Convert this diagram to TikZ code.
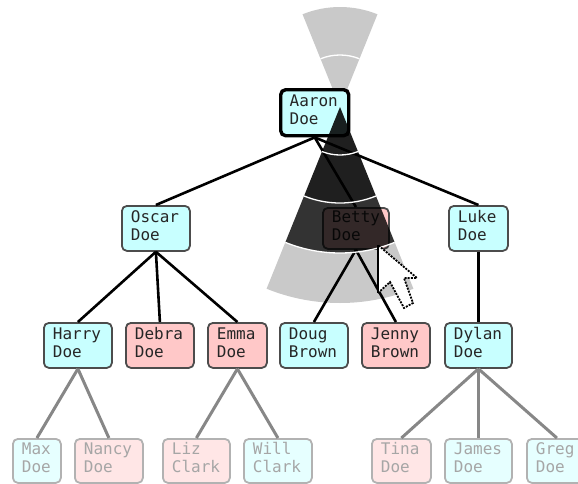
\documentclass[tikz,border=0pt]{standalone}
\usepackage{fontspec}
\setmonofont{DejaVu Sans Mono}
\definecolor{cyanbox}{HTML}{C8FFFF}
\definecolor{pinkbox}{HTML}{FFC8C8}
\definecolor{cyanleaf}{HTML}{E6FFFF}
\definecolor{pinkleaf}{HTML}{FFE6E6}
\tikzset{
  person/.style={draw=black!70,line width=1.8pt,rounded corners=5pt,anchor=north west,inner sep=0pt,
    font=\ttfamily\fontsize{16}{18}\selectfont,align=left,text=black!85},
  leaf/.style={person,draw=black!30,text=black!35},
  topperson/.style={person,draw=black,line width=3.4pt},
  link/.style={line width=2.6pt,draw=black},
  faint/.style={line width=3pt,draw=black!47},
  seam/.style={draw=white,line width=1.3pt},
}
\newcommand{\pbox}[8]{\node[#1,fill=#2,minimum width=#5pt,minimum height=#6pt,text width=#5pt-18pt] (#3) at (#4) {#7\\#8\par\vspace{6pt}};}
\begin{document}
\begin{tikzpicture}[x=1pt,y=-1pt]
\useasboundingbox (0,0) rectangle (578,483);
\coordinate (apex) at (340,107);
% upper wedge
\begin{scope}[shift={(apex)},x=1pt,y=1pt]
\fill[black!21] (0,0) -- (68:100) arc[start angle=68,end angle=112,radius=100] -- cycle;
\draw[seam] (68:52) arc[start angle=68,end angle=112,radius=52];
\end{scope}
% people
\pbox{topperson}{cyanbox}{aaron}{279,88}{68}{46}{Aaron}{Doe}
\pbox{person}{cyanbox}{oscar}{121,205}{68}{45}{Oscar}{Doe}
\pbox{person}{pinkbox}{betty}{322,207}{66}{41}{Betty}{Doe}
\pbox{person}{cyanbox}{luke}{448,205}{59}{45}{Luke}{Doe}
\pbox{person}{cyanbox}{harry}{43,322}{68}{45}{Harry}{Doe}
\pbox{person}{pinkbox}{debra}{125,322}{68}{45}{Debra}{Doe}
\pbox{person}{pinkbox}{emma}{207,322}{59}{45}{Emma}{Doe}
\pbox{person}{cyanbox}{doug}{279,322}{68}{45}{Doug}{Brown}
\pbox{person}{pinkbox}{jenny}{361,322}{68}{45}{Jenny}{Brown}
\pbox{person}{cyanbox}{dylan}{444,322}{67}{45}{Dylan}{Doe}
\pbox{leaf}{cyanleaf}{max}{12,438}{48}{44}{Max}{Doe}
\pbox{leaf}{pinkleaf}{nancy}{74,438}{68}{44}{Nancy}{Doe}
\pbox{leaf}{pinkleaf}{liz}{162,438}{67}{44}{Liz}{Clark}
\pbox{leaf}{cyanleaf}{will}{243,438}{68}{44}{Will}{Clark}
\pbox{leaf}{pinkleaf}{tina}{371,438}{59}{44}{Tina}{Doe}
\pbox{leaf}{cyanleaf}{james}{444,438}{67}{44}{James}{Doe}
\pbox{leaf}{cyanleaf}{greg}{526,438}{60}{44}{Greg}{Doe}
% links
\draw[link] (aaron.south) -- (oscar.north);
\draw[link] (aaron.south) -- (betty.north);
\draw[link] (aaron.south) -- (luke.north);
\draw[link] (oscar.south) -- (harry.north);
\draw[link] (oscar.south) -- (debra.north);
\draw[link] (oscar.south) -- (emma.north);
\draw[link] (betty.south) -- (doug.north);
\draw[link] (betty.south) -- (jenny.north);
\draw[link] (luke.south) -- (dylan.north);
\draw[faint] (harry.south) -- (max.north);
\draw[faint] (harry.south) -- (nancy.north);
\draw[faint] (emma.south) -- (liz.north);
\draw[faint] (emma.south) -- (will.north);
\draw[faint] (dylan.south) -- (tina.north);
\draw[faint] (dylan.south) -- (james.north);
\draw[faint] (dylan.south) -- (greg.north);
% lower wedge overlays
\begin{scope}[shift={(apex)},x=1pt,y=1pt]
\fill[black,opacity=.88] (0,0) -- (248:96) arc[start angle=248,end angle=292,radius=96] -- cycle;
\fill[black,opacity=.8] (248:96) arc[start angle=248,end angle=292,radius=96]
   -- (292:146) arc[start angle=292,end angle=248,radius=146] -- cycle;
\fill[black,opacity=.21] (248:146) arc[start angle=248,end angle=292,radius=146]
   -- (292:196) arc[start angle=292,end angle=248,radius=196] -- cycle;
\draw[seam] (248:48) arc[start angle=248,end angle=292,radius=48];
\draw[seam] (248:96) arc[start angle=248,end angle=292,radius=96];
\draw[seam] (248:146) arc[start angle=248,end angle=292,radius=146];
\end{scope}
% pointer
\coordinate (t) at (378,245);
\fill[white] (t) -- (378,293) -- (390,282) -- (404,308) -- (413,303) -- (404,278) -- (417,278) -- cycle;
\draw[line width=1.8pt] (t) -- (378,293);
\draw[line width=1.8pt,dash pattern=on 2pt off 1.2pt] (378,293) -- (390,282) -- (404,308) -- (413,303) -- (404,278) -- (417,278) -- (t);
\end{tikzpicture}
\end{document}
